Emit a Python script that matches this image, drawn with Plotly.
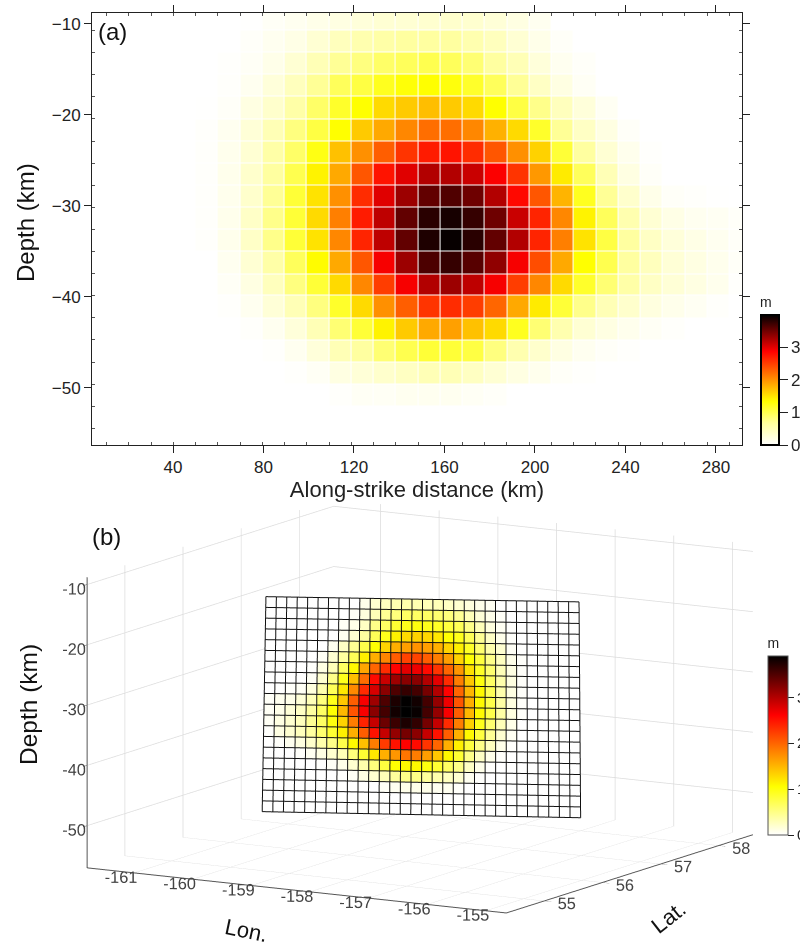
import numpy as np
import plotly.graph_objects as go

W, H = 800, 945

# along-strike cell centres (km), depth cell centres (km)
strike_km = [5.8, 15.6, 25.4, 35.3, 45.1, 54.9, 64.8, 74.6, 84.4, 94.3,
             104.1, 113.9, 123.8, 133.6, 143.4, 153.3, 163.1, 172.9, 182.8, 192.6,
             202.4, 212.3, 222.1, 231.9, 241.8, 251.6, 261.4, 271.3, 281.1, 290.9]
depth_km = [-9.5, -11.9, -14.4, -16.8, -19.2, -21.7, -24.1, -26.5, -29.0, -31.4,
            -33.8, -36.3, -38.7, -41.1, -43.6, -46.0, -48.4, -50.9, -53.3, -55.7]

# slip (m), one row per depth, one column per along-strike cell
slip_m = [
 [0,0,0,0,0,0,0,.01,.06,.10,.15,.20,.25,.30,.30,.33,.35,.33,.27,.20,.10,0,0,0,0,0,0,0,0,0],
 [0,0,0,0,0,0,0,.04,.10,.17,.30,.45,.55,.60,.65,.65,.65,.55,.45,.30,.15,.05,0,0,0,0,0,0,0,0],
 [0,0,0,0,0,0,.02,.06,.15,.30,.50,.70,.80,.90,.95,1.0,.95,.85,.65,.50,.25,.10,.04,0,0,0,0,0,0,0],
 [0,0,0,0,0,0,.03,.10,.25,.45,.70,.95,1.05,1.2,1.3,1.33,1.28,1.15,.95,.70,.40,.20,.07,0,0,0,0,0,0,0],
 [0,0,0,0,0,.01,.05,.20,.35,.60,.90,1.15,1.33,1.55,1.65,1.72,1.65,1.55,1.33,1.05,.75,.45,.25,.08,0,0,0,0,0,0],
 [0,0,0,0,0,.03,.10,.27,.50,.80,1.05,1.33,1.65,1.85,2.05,2.2,2.2,2.05,1.8,1.55,1.15,.70,.40,.20,.05,0,0,0,0,0],
 [0,0,0,0,0,.03,.12,.30,.60,.90,1.25,1.7,2.0,2.3,2.55,2.7,2.75,2.6,2.35,2.0,1.6,1.1,.65,.30,.12,.02,0,0,0,0],
 [0,0,0,0,0,.03,.13,.35,.65,1.0,1.4,1.85,2.35,2.75,3.0,3.2,3.2,3.1,2.88,2.55,1.95,1.45,.95,.50,.20,.05,0,0,0,0],
 [0,0,0,0,0,.03,.12,.35,.70,1.1,1.5,2.0,2.6,3.0,3.3,3.55,3.63,3.5,3.2,2.82,2.35,1.78,1.2,.70,.35,.15,.05,.03,.01,0],
 [0,0,0,0,0,.03,.13,.38,.75,1.1,1.55,2.1,2.7,3.15,3.55,3.8,3.88,3.75,3.5,3.1,2.65,2.05,1.4,.95,.55,.30,.17,.10,.08,.04],
 [0,0,0,0,0,.03,.13,.38,.75,1.1,1.5,2.05,2.65,3.15,3.55,3.85,3.95,3.8,3.55,3.2,2.65,2.1,1.5,1.05,.65,.40,.25,.17,.10,.05],
 [0,0,0,0,0,0,.10,.30,.60,.95,1.35,1.85,2.35,2.9,3.3,3.65,3.75,3.6,3.35,2.9,2.4,1.85,1.33,1.0,.65,.45,.28,.20,.12,.05],
 [0,0,0,0,0,0,.06,.20,.45,.80,1.1,1.55,2.05,2.5,2.9,3.2,3.3,3.15,2.9,2.5,2.05,1.55,1.15,.85,.60,.40,.28,.20,.12,.02],
 [0,0,0,0,0,0,.02,.10,.27,.50,.80,1.15,1.55,2.0,2.3,2.55,2.6,2.5,2.25,1.85,1.45,1.1,.75,.50,.35,.22,.14,.08,.03,0],
 [0,0,0,0,0,0,0,.03,.10,.25,.50,.85,1.1,1.4,1.65,1.85,1.9,1.7,1.55,1.2,.85,.55,.30,.20,.12,.07,.03,0,0,0],
 [0,0,0,0,0,0,0,0,.02,.10,.25,.50,.65,.85,1.0,1.1,1.1,1.05,.80,.55,.35,.20,.10,.05,.02,0,0,0,0,0],
 [0,0,0,0,0,0,0,0,0,.02,.07,.20,.27,.35,.42,.50,.50,.42,.30,.20,.12,.05,.02,0,0,0,0,0,0,0],
 [0,0,0,0,0,0,0,0,0,0,0,.03,.07,.07,.10,.10,.10,.07,.04,0,0,0,0,0,0,0,0,0,0,0],
 [0]*30,
 [0]*30,
]

# fault-plane corners: top-left, top-right, bottom-left, bottom-right
corner_lon = [-158.82, -154.72, -161.73, -157.43]
corner_lat = [54.42, 55.67, 57.29, 58.43]
corner_depth = [-9.1, -9.5, -56.6, -56.6]

lon_ticks = [-161, -160, -159, -158, -157, -156, -155]
lat_ticks = [55, 56, 57, 58]
depth_ticks = [-50, -40, -30, -20, -10]
depth_tick_text = ["-50", "-40", "-30", "-20", "-10"]
lon_tick_text = ["-161", "-160", "-159", "-158", "-157", "-156", "-155"]

scale_a = [[0, "#ffffff"], [0.17, "#ffff9c"], [0.334, "#ffff00"], [0.72, "#ff0000"], [1, "#000000"]]
scale_b = [[0, "#ffffff"], [0.27, "#ffff00"], [0.67, "#ff0000"], [1, "#000000"]]

z = np.array(slip_m, float)
INK = "#222222"
FONT = "Liberation Sans"


def px(x):
    return x / W


def py(y):
    return 1 - y / H


fig = go.Figure()

fig.add_trace(go.Heatmap(
    x=strike_km, y=depth_km, z=z, zmin=0, zmax=3.98, colorscale=scale_a,
    xgap=1, ygap=1, hoverinfo="skip",
    colorbar=dict(
        lenmode="pixels", len=151, thicknessmode="pixels", thickness=18,
        x=px(761), xanchor="left", y=py(445), yanchor="bottom", xpad=0, ypad=0,
        outlinewidth=2, outlinecolor="black", tickvals=[0, 1, 2, 3],
        ticks="outside", ticklen=8, tickcolor=INK,
        tickfont=dict(size=17, family=FONT, color=INK),
        title=dict(text="m", side="top", font=dict(size=14, family=FONT, color=INK)),
    ),
))

minor_x = dict(ticks="inside", ticklen=3, tick0=0.85, dtick=9.83, tickcolor="#555555", showgrid=False)
minor_y = dict(ticks="inside", ticklen=3, tick0=-8.3, dtick=2.43, tickcolor="#555555", showgrid=False)
fig.update_layout(
    width=W, height=H, margin=dict(l=0, r=0, t=0, b=0, autoexpand=False),
    paper_bgcolor="white", plot_bgcolor="white", showlegend=False,
    font=dict(family=FONT, color=INK),
    xaxis=dict(
        domain=[px(92), px(742)], range=[4.2, 291.5], tick0=40, dtick=40,
        ticks="outside", ticklen=7, tickcolor=INK, tickwidth=1, showgrid=False, zeroline=False,
        showline=True, linecolor=INK, linewidth=1, mirror="ticks",
        tickfont=dict(size=17), minor=minor_x, anchor="y",
        title=dict(text="Along-strike distance (km)", font=dict(size=22), standoff=1),
    ),
    yaxis=dict(
        domain=[py(445), py(13)], range=[-56.3, -8.8], tick0=-50, dtick=10,
        ticks="outside", ticklen=7, tickcolor=INK, tickwidth=1, showgrid=False, zeroline=False,
        showline=True, linecolor=INK, linewidth=1, mirror="ticks",
        tickfont=dict(size=17), minor=minor_y, tickformat="d", anchor="x",
    ),
)

# ---- panel (b): cells of the fault plane as a mesh, with its grid lines
nr, nc = z.shape
u = np.linspace(0, 1, nc + 1)
v = np.linspace(0, 1, nr + 1)
U, V = np.meshgrid(u, v)


def plane(c):
    return (c[0] * (1 - U) * (1 - V) + c[1] * U * (1 - V)
            + c[2] * (1 - U) * V + c[3] * U * V)


lon = plane(corner_lon)
lat = plane(corner_lat)
dep = plane(corner_depth)

idx = (np.arange(nr + 1)[:, None] * (nc + 1) + np.arange(nc + 1)[None, :])
a = idx[:-1, :-1].ravel()
b = idx[:-1, 1:].ravel()
c = idx[1:, 1:].ravel()
d = idx[1:, :-1].ravel()
cell = z[:, ::-1].ravel()
fig.add_trace(go.Mesh3d(
    x=lon.ravel(), y=lat.ravel(), z=dep.ravel(),
    i=np.concatenate([a, a]), j=np.concatenate([b, c]), k=np.concatenate([c, d]),
    intensity=np.concatenate([cell, cell]), intensitymode="cell",
    cmin=0, cmax=3.9, colorscale=scale_b, flatshading=True, hoverinfo="skip",
    lighting=dict(ambient=1, diffuse=0, specular=0, roughness=1, fresnel=0),
    scene="scene",
    colorbar=dict(
        lenmode="pixels", len=200, thicknessmode="pixels", thickness=20,
        x=px(768), xanchor="left", y=py(835), yanchor="bottom", xpad=0, ypad=0,
        outlinewidth=1, outlinecolor="#555555", tickvals=[0, 1, 2, 3],
        ticks="outside", ticklen=6, tickcolor=INK,
        tickfont=dict(size=15, family=FONT, color=INK),
        title=dict(text="m", side="top", font=dict(size=14, family=FONT, color=INK)),
    ),
))


def lines(xx, yy, zz):
    xs, ys, zs = [], [], []
    for p, q, r in zip(xx, yy, zz):
        xs += list(p) + [None]
        ys += list(q) + [None]
        zs += list(r) + [None]
    return xs, ys, zs


# grid lines lifted a little towards the viewer so the mesh does not cut them
lx, ly, lz = lon + 0.05, lat - 0.05, dep + 0.2
xr, yr, zr = lines(lx, ly, lz)
xc, yc, zc = lines(lx.T, ly.T, lz.T)
fig.add_trace(go.Scatter3d(
    x=xr + xc, y=yr + yc, z=zr + zc, mode="lines",
    line=dict(color="#111111", width=2), hoverinfo="skip", scene="scene", showlegend=False,
))

axis3d = dict(
    backgroundcolor="white", showbackground=False, gridcolor="#dcdcdc", gridwidth=1.5,
    zeroline=False, showline=True, linecolor="#555555", linewidth=2,
    ticks="outside", ticklen=8, tickcolor="#555555", showspikes=False, tickangle=0,
    title=dict(text=""), tickfont=dict(size=14, family=FONT, color="#444444"),
)
fig.update_layout(scene=dict(
    domain=dict(x=[px(40), px(800)], y=[0, py(467)]),
    xaxis=dict(axis3d, range=[-161.8, -154.65], tickvals=lon_ticks, ticktext=lon_tick_text),
    yaxis=dict(axis3d, range=[54.35, 58.59], tickvals=lat_ticks),
    zaxis=dict(axis3d, range=[-57, -8.8], tickvals=depth_ticks, ticktext=depth_tick_text),
    aspectmode="manual", aspectratio=dict(x=2.03, y=2.05, z=1.237),
    camera=dict(projection=dict(type="orthographic"), up=dict(x=0, y=0, z=1),
                center=dict(x=0, y=0, z=0), eye=dict(x=0.99, y=-1.70, z=0.37)),
))

notes = [
    ("(a)", 113, 31, 24, 0),
    ("(b)", 106, 536, 24, 0),
    ("Depth (km)", 26, 223, 24, -90),
    ("Depth (km)", 28, 705, 24.5, -90),
    ("Lon.", 246, 930, 22, 12),
    ("Lat.", 668, 917, 22, -38),
]
for text, x, y, size, angle in notes:
    fig.add_annotation(text=text, x=px(x), y=py(y), xref="paper", yref="paper", showarrow=False,
                       xanchor="center", yanchor="middle",
                       font=dict(size=size, family=FONT, color="#111111"), textangle=angle)

fig.write_html("out.html", config=dict(displayModeBar=False),
               post_script="document.body.style.margin='0';document.body.style.overflow='hidden';")
